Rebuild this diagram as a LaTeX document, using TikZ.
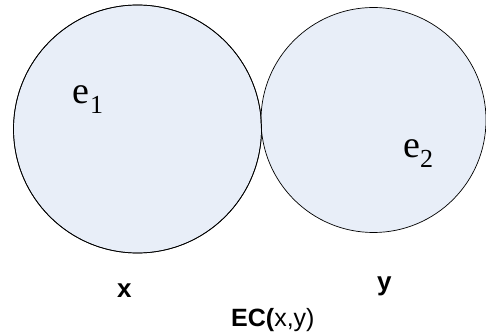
\documentclass[tikz,border=0pt]{standalone}
\usepackage{fontspec}
\setmainfont{Liberation Serif}
\newfontfamily\arialfont{Liberation Sans}
\definecolor{setfill}{RGB}{232,238,248}

\tikzset{
  region/.style={draw=black, fill=setfill, line width=0.7pt},
  elem/.style={inner sep=0pt, anchor=base west, font=\fontsize{38}{38}\selectfont},
  setname/.style={inner sep=0pt, anchor=base west, font=\arialfont\bfseries\fontsize{26}{26}\selectfont},
}
\newcommand{\elemsub}[2][0pt]{\kern#1\raisebox{-9.5pt}{\fontsize{26}{26}\selectfont #2}}

\begin{document}
\begin{tikzpicture}[x=1pt, y=-1pt]
    \useasboundingbox (0,0) rectangle (486,336);
    \clip (0,0) rectangle (486,336);

    \coordinate (X) at (137.5,129);
    \coordinate (Y) at (373.5,120);

    \fill[region] (X) circle (124);
    \fill[region] (Y) circle (112.5);
    \draw[line width=0.7pt] (X) circle (124);

    \node[elem] (e1) at (72,104) {e\elemsub[1pt]{1}};
    \node[elem] (e2) at (403,158) {e\elemsub{2}};

    \node[setname] (x) at (117,297) {x};
    \node[setname] (y) at (377,290) {y};

    \node[inner sep=0pt, anchor=base west, font=\arialfont\fontsize{25}{25}\selectfont] (ec) at (231,326)
        {\textbf{EC(}x,y)};
\end{tikzpicture}
\end{document}
